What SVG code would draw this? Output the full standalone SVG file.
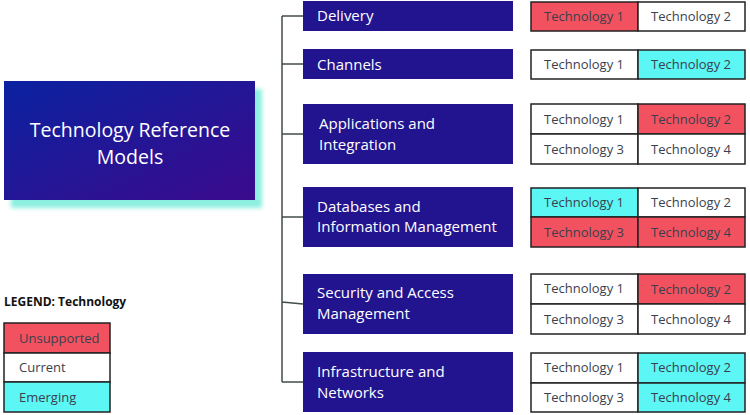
<svg xmlns="http://www.w3.org/2000/svg" width="750" height="415" viewBox="0 0 750 415">
<defs>
<linearGradient id="g" x1="0" y1="0" x2="1" y2="1">
<stop offset="0" stop-color="#0a22a0"/>
<stop offset="1" stop-color="#3b0a8c"/>
</linearGradient>
<filter id="blur" x="-10%" y="-10%" width="120%" height="130%"><feGaussianBlur stdDeviation="2"/></filter>
</defs>
<style>
.cat{fill:#22148f}
.ct{fill:#ffffff;font-family:"Open Sans",sans-serif;font-size:15px}
.cell{stroke:#222;stroke-width:1.5}
.w{fill:#ffffff}.r{fill:#f2525f}.c{fill:#5cf7f4}
.tt{fill:#3a3f4e;font-family:"Open Sans",sans-serif;font-size:13px;text-anchor:middle}
.lt{fill:#3a3f4e;font-family:"Open Sans",sans-serif;font-size:13px}
.ln{stroke:#444c4c;stroke-width:1.5;fill:none}
</style>
<g id="main">
<rect x="11" y="89" width="251" height="119" fill="#8cefe0" filter="url(#blur)"/>
<rect x="4" y="81" width="251" height="119" fill="url(#g)"/>
<text x="130" y="137" text-anchor="middle" font-family="Open Sans, sans-serif" font-size="19.5" fill="#fff">Technology Reference</text>
<text x="130" y="164" text-anchor="middle" font-family="Open Sans, sans-serif" font-size="19.5" fill="#fff">Models</text>
</g>
<g id="connectors">
<path class="ln" d="M282 16V382M282 16H303M282 64H303M282 134H303M282 217H303M282 302L303 304M282 382H303"/>
</g>
<g id="delivery">
<rect class="cat" x="303" y="1" width="210" height="30"/>
<text class="ct" x="317" y="21">Delivery</text>
<rect class="cell r" x="531" y="2" width="107" height="29"/>
<rect class="cell w" x="638" y="2" width="107" height="29"/>
<text class="tt" x="584" y="21">Technology 1</text>
<text class="tt" x="691" y="21">Technology 2</text>
</g>
<g id="channels">
<rect class="cat" x="303" y="49" width="210" height="30"/>
<text class="ct" x="317" y="70">Channels</text>
<rect class="cell w" x="531" y="50" width="107" height="29"/>
<rect class="cell c" x="638" y="50" width="107" height="29"/>
<text class="tt" x="584" y="69">Technology 1</text>
<text class="tt" x="691" y="69">Technology 2</text>
</g>
<g id="applications">
<rect class="cat" x="303" y="104" width="210" height="60"/>
<text class="ct" x="319" y="129">Applications and</text>
<text class="ct" x="319" y="150">Integration</text>
<rect class="cell w" x="531" y="104" width="107" height="30"/>
<rect class="cell r" x="638" y="104" width="107" height="30"/>
<rect class="cell w" x="531" y="134" width="107" height="30"/>
<rect class="cell w" x="638" y="134" width="107" height="30"/>
<text class="tt" x="584" y="124">Technology 1</text>
<text class="tt" x="691" y="124">Technology 2</text>
<text class="tt" x="584" y="154">Technology 3</text>
<text class="tt" x="691" y="154">Technology 4</text>
</g>
<g id="databases">
<rect class="cat" x="303" y="187" width="210" height="60"/>
<text class="ct" x="317" y="212">Databases and</text>
<text class="ct" x="317" y="232">Information Management</text>
<rect class="cell c" x="531" y="188" width="107" height="29"/>
<rect class="cell w" x="638" y="188" width="107" height="29"/>
<rect class="cell r" x="531" y="217" width="107" height="30"/>
<rect class="cell r" x="638" y="217" width="107" height="30"/>
<text class="tt" x="584" y="207">Technology 1</text>
<text class="tt" x="691" y="207">Technology 2</text>
<text class="tt" x="584" y="237">Technology 3</text>
<text class="tt" x="691" y="237">Technology 4</text>
</g>
<g id="security">
<rect class="cat" x="303" y="274" width="210" height="60"/>
<text class="ct" x="317" y="298">Security and Access</text>
<text class="ct" x="317" y="319">Management</text>
<rect class="cell w" x="531" y="274" width="107" height="30"/>
<rect class="cell r" x="638" y="274" width="107" height="30"/>
<rect class="cell w" x="531" y="304" width="107" height="30"/>
<rect class="cell w" x="638" y="304" width="107" height="30"/>
<text class="tt" x="584" y="293">Technology 1</text>
<text class="tt" x="691" y="294">Technology 2</text>
<text class="tt" x="584" y="324">Technology 3</text>
<text class="tt" x="691" y="324">Technology 4</text>
</g>
<g id="infrastructure">
<rect class="cat" x="303" y="352" width="210" height="60"/>
<text class="ct" x="317" y="377">Infrastructure and</text>
<text class="ct" x="317" y="398">Networks</text>
<rect class="cell w" x="531" y="353" width="107" height="30"/>
<rect class="cell c" x="638" y="353" width="107" height="30"/>
<rect class="cell w" x="531" y="383" width="107" height="29"/>
<rect class="cell c" x="638" y="383" width="107" height="29"/>
<text class="tt" x="584" y="372">Technology 1</text>
<text class="tt" x="691" y="372">Technology 2</text>
<text class="tt" x="584" y="402">Technology 3</text>
<text class="tt" x="691" y="402">Technology 4</text>
</g>
<g id="legend">
<text x="4" y="306" font-family="Open Sans, sans-serif" font-size="12" font-weight="bold" fill="#111">LEGEND: Technology</text>
<rect class="cell r" x="4" y="323" width="106" height="30"/>
<rect class="cell w" x="4" y="353" width="106" height="29"/>
<rect class="cell c" x="4" y="382" width="106" height="30"/>
<text class="lt" x="19" y="343">Unsupported</text>
<text class="lt" x="19" y="372">Current</text>
<text class="lt" x="19" y="402">Emerging</text>
</g>
</svg>
